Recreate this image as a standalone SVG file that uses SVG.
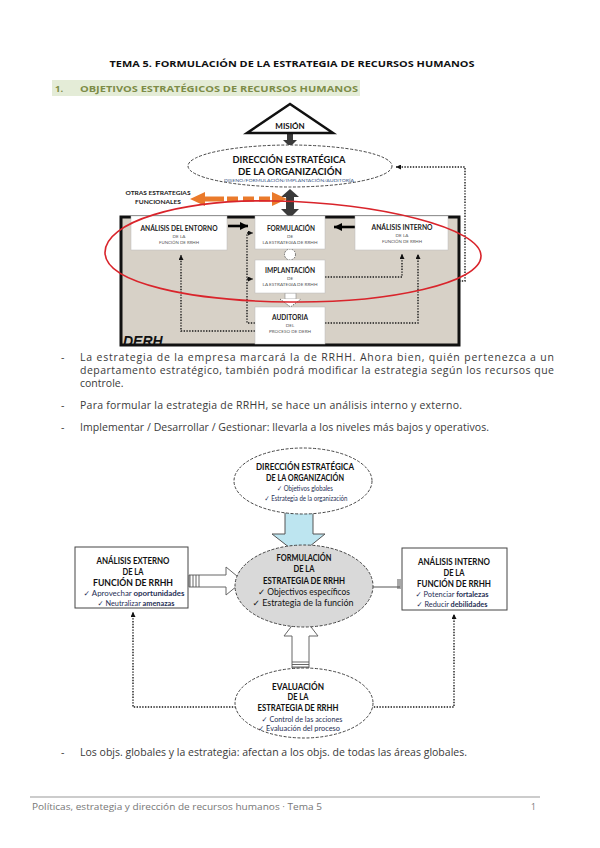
<svg xmlns="http://www.w3.org/2000/svg" width="600" height="848" viewBox="0 0 600 848">
<defs>
<style>
.body{font-family:"Open Sans","Liberation Sans",sans-serif;font-size:10.5px;fill:#3a3a3a}
.cal{font-family:Lato,"DejaVu Sans",sans-serif;fill:#111;text-anchor:middle}
.t9{font-size:9px;font-weight:bold}
.ck{font-size:7.6px;fill:#1f2f55}
.sm{font-family:Lato,"Liberation Sans",sans-serif;fill:#222;text-anchor:middle}
.h{font-size:6.6px;font-weight:bold}
.s{font-size:4.6px;fill:#555}
.dot{fill:none;stroke:#1a1a1a;stroke-width:1.4;stroke-dasharray:1.4,1.4}
.dsh{stroke:#444;stroke-width:1;stroke-dasharray:3,1.6}
.box{fill:#fff;stroke:#bbb;stroke-width:0.5}
.hol{fill:#fff;stroke:#666;stroke-width:1}
</style>
<marker id="ah" viewBox="0 0 6 6" refX="6" refY="3" markerWidth="5" markerHeight="5" markerUnits="userSpaceOnUse" orient="auto"><path d="M0,0 L6,3 L0,6 Z" fill="#111"/></marker>
<marker id="bh" viewBox="0 0 6 6" refX="6" refY="3" markerWidth="8" markerHeight="8" markerUnits="userSpaceOnUse" orient="auto"><path d="M0,0 L6,3 L0,6 Z" fill="#000"/></marker>
</defs>
<rect width="600" height="848" fill="#fff"/>

<g id="title">
<text x="292" y="67" text-anchor="middle" font-family="'Open Sans','Liberation Sans',sans-serif" font-weight="bold" font-size="9.5" fill="#111" textLength="365" lengthAdjust="spacingAndGlyphs">TEMA 5. FORMULACIÓN DE LA ESTRATEGIA DE RECURSOS HUMANOS</text>
</g>
<g id="heading">
<rect x="52" y="80" width="308" height="16" fill="#e4ecd7"/>
<text x="55" y="92" font-family="'Open Sans','Liberation Sans',sans-serif" font-weight="bold" font-size="9.5" fill="#7d8c48">1.</text>
<text x="80" y="92" font-family="'Open Sans','Liberation Sans',sans-serif" font-weight="bold" font-size="9.5" fill="#7d8c48" textLength="278" lengthAdjust="spacingAndGlyphs">OBJETIVOS ESTRATÉGICOS DE RECURSOS HUMANOS</text>
</g>

<!-- ========== TOP DIAGRAM ========== -->
<g id="derh">
<rect x="121" y="217" width="338" height="128" fill="#d7d1c7" stroke="#111" stroke-width="3"/>
<text x="123" y="346" font-family="'Liberation Sans',sans-serif" font-weight="bold" font-style="italic" font-size="14" fill="#111">DERH</text>
</g>

<g id="connectors-top">
<path class="dot" d="M255,331 H181 V255" marker-end="url(#ah)"/>
<path class="dot" d="M255,323 H247 V233 H253" marker-end="url(#ah)"/>
<path class="dot" d="M247,279 H253" marker-end="url(#ah)"/>
<path class="dot" d="M325,277 H402 V254" marker-end="url(#ah)"/>
<path class="dot" d="M325,323 H418 V254" marker-end="url(#ah)"/>
<path class="dot" d="M459,281 H465 V167 H396" marker-end="url(#ah)"/>
<path d="M228,226 H248" stroke="#000" stroke-width="2.6" marker-end="url(#bh)"/>
<path d="M355,227 H334" stroke="#000" stroke-width="2.6" marker-end="url(#bh)"/>
<rect x="287" y="133" width="6" height="7" fill="#3a3a3a"/>
<polygon points="283,140 297,140 290,147" fill="#3a3a3a"/>
<rect x="286" y="196" width="8" height="14" fill="#3a3a3a"/>
<polygon points="281,197 299,197 290,189" fill="#3a3a3a"/>
<polygon points="281,209 299,209 290,218" fill="#3a3a3a"/>
<path d="M203,199 H224" stroke="#ea7a2b" stroke-width="5"/>
<path d="M227,199 H271" stroke="#ea7a2b" stroke-width="5" stroke-dasharray="11,5"/>
<polygon points="190,199 205,192 205,206" fill="#ea7a2b"/>
<polygon points="287,199 272,192 272,206" fill="#ea7a2b"/>
<circle cx="290" cy="254.5" r="5.5" fill="#fff" stroke="#555" stroke-width="0.9" stroke-dasharray="1.5,1.2"/>
<rect x="285" y="293" width="11" height="6" fill="#fff" stroke="#888" stroke-width="0.6"/>
<path d="M280,299 L290.5,307 L301,299" fill="#fff" stroke="#555" stroke-width="0.9" stroke-dasharray="1.5,1.2"/>
</g>

<g id="mision">
<polygon points="290,104 247,133 333,133" fill="#fff" stroke="#111" stroke-width="2.5"/>
<text x="290" y="129" text-anchor="middle" font-family="Lato,'Liberation Sans',sans-serif" font-weight="bold" font-size="8" fill="#111">MISIÓN</text>
</g>

<g id="direccion-top">
<ellipse cx="290" cy="166" rx="102" ry="21" fill="#fff" class="dsh"/>
<text x="289" y="163" text-anchor="middle" font-family="Lato,'Liberation Sans',sans-serif" font-weight="bold" font-size="10" fill="#111" textLength="113" lengthAdjust="spacingAndGlyphs">DIRECCIÓN ESTRATÉGICA</text>
<text x="290" y="175" text-anchor="middle" font-family="Lato,'Liberation Sans',sans-serif" font-weight="bold" font-size="10" fill="#111" textLength="104" lengthAdjust="spacingAndGlyphs">DE LA ORGANIZACIÓN</text>
<text x="289" y="182" text-anchor="middle" font-family="Lato,'Liberation Sans',sans-serif" font-size="4.5" fill="#3b5a8a" textLength="130" lengthAdjust="spacingAndGlyphs">DISEÑO/FORMULACIÓN/IMPLANTACIÓN/AUDITORÍA</text>
</g>

<g id="otras">
<text x="158" y="195" class="sm" font-weight="bold" font-size="6.3" textLength="65" lengthAdjust="spacingAndGlyphs">OTRAS ESTRATEGIAS</text>
<text x="158" y="204" class="sm" font-weight="bold" font-size="6.3" textLength="46" lengthAdjust="spacingAndGlyphs">FUNCIONALES</text>
</g>

<g id="entorno">
<rect x="131" y="216" width="96" height="34" class="box"/>
<text x="179" y="231" class="sm h" textLength="77" lengthAdjust="spacingAndGlyphs">ANÁLISIS DEL ENTORNO</text>
<text x="179" y="238" class="sm s">DE LA</text>
<text x="179" y="244" class="sm s" textLength="40" lengthAdjust="spacingAndGlyphs">FUNCIÓN DE RRHH</text>
</g>
<g id="formulacion-top">
<rect x="255" y="216" width="70" height="33" class="box"/>
<text x="291" y="231" class="sm h" textLength="48" lengthAdjust="spacingAndGlyphs">FORMULACIÓN</text>
<text x="290" y="238" class="sm s">DE</text>
<text x="290" y="244" class="sm s" textLength="55" lengthAdjust="spacingAndGlyphs">LA ESTRATEGIA DE RRHH</text>
</g>
<g id="interno-top">
<rect x="355" y="216" width="93" height="34" class="box"/>
<text x="402" y="230" class="sm h" textLength="61" lengthAdjust="spacingAndGlyphs">ANÁLISIS INTERNO</text>
<text x="402" y="237" class="sm s">DE LA</text>
<text x="402" y="243" class="sm s" textLength="40" lengthAdjust="spacingAndGlyphs">FUNCIÓN DE RRHH</text>
</g>
<g id="implantacion">
<rect x="255" y="260" width="70" height="33" class="box"/>
<text x="290" y="273" class="sm h" textLength="50" lengthAdjust="spacingAndGlyphs">IMPLANTACIÓN</text>
<text x="290" y="280" class="sm s">DE</text>
<text x="290" y="286" class="sm s" textLength="55" lengthAdjust="spacingAndGlyphs">LA ESTRATEGIA DE RRHH</text>
</g>
<g id="auditoria">
<rect x="255" y="307" width="70" height="37" class="box"/>
<text x="290" y="320" class="sm h" textLength="36" lengthAdjust="spacingAndGlyphs">AUDITORIA</text>
<text x="290" y="327" class="sm s">DEL</text>
<text x="290" y="333" class="sm s" textLength="42" lengthAdjust="spacingAndGlyphs">PROCESO DE DERH</text>
</g>

<g id="red-ellipse">
<path d="M105,253 C104,222 180,199 275,201 C380,203 481,228 481,256 C481,283 390,303 290,302 C190,301 106,283 105,253 Z" fill="none" stroke="#d9242b" stroke-width="1.6"/>
</g>

<g id="bullets-1" class="body">
<text x="61" y="361">-</text>
<text x="80" y="361" textLength="474">La estrategia de la empresa marcará la de RRHH. Ahora bien, quién pertenezca a un</text>
<text x="80" y="374" textLength="474">departamento estratégico, también podrá modificar la estrategia según los recursos que</text>
<text x="80" y="387">controle.</text>
<text x="61" y="409">-</text>
<text x="80" y="409" textLength="382">Para formular la estrategia de RRHH, se hace un análisis interno y externo.</text>
<text x="61" y="431">-</text>
<text x="80" y="431" textLength="409">Implementar / Desarrollar / Gestionar: llevarla a los niveles más bajos y operativos.</text>
</g>

<!-- ========== BOTTOM DIAGRAM ========== -->
<g id="connectors-bottom">
<path class="dot" d="M236,707 H133 V612" marker-end="url(#ah)"/>
<path class="dot" d="M371,707 H454 V614" marker-end="url(#ah)"/>
<polygon points="285,509 313,509 313,534 325,534 299,555 272,534 285,534" fill="#bde5f0" stroke="#555" stroke-width="1"/>
<line x1="285" y1="509.5" x2="313" y2="509.5" stroke="#333" stroke-width="2"/>
<polygon points="189,575 226,575 226,567 243,581 226,595 226,587 189,587" class="hol"/>
<path d="M190,575 V587 M193,575 V587 M196,575 V587 M199,575 V587" stroke="#555" stroke-width="0.9"/>
<path d="M367,568 L351,582 L367,596" fill="none" stroke="#666" stroke-width="1"/>
<path d="M366,587 H400 M400,579 V589 M398,579 V589" stroke="#555" stroke-width="1"/>
<polygon points="292,668 292,636 284,636 301,614 318,636 309,636 309,668" class="hol"/>
<path d="M292,662 H309 M292,664.5 H309 M292,667 H309" stroke="#555" stroke-width="0.9"/>
</g>

<g id="direccion">
<ellipse cx="303" cy="481" rx="69" ry="33" fill="#fff" class="dsh"/>
<text x="305" y="470" class="cal t9" textLength="98" lengthAdjust="spacingAndGlyphs">DIRECCIÓN ESTRATÉGICA</text>
<text x="305" y="481" class="cal t9" textLength="78" lengthAdjust="spacingAndGlyphs">DE LA ORGANIZACIÓN</text>
<text x="305" y="491" class="cal ck" textLength="56" lengthAdjust="spacingAndGlyphs">✓ Objetivos globales</text>
<text x="306" y="501" class="cal ck" textLength="83" lengthAdjust="spacingAndGlyphs">✓ Estrategia de la organización</text>
</g>

<g id="formulacion">
<ellipse cx="304" cy="586" rx="69" ry="41" fill="#d9d9d9" class="dsh"/>
<text x="304" y="561" class="cal t9" textLength="55" lengthAdjust="spacingAndGlyphs">FORMULACIÓN</text>
<text x="304" y="572" class="cal t9" textLength="21" lengthAdjust="spacingAndGlyphs">DE LA</text>
<text x="304" y="584" class="cal t9" textLength="82" lengthAdjust="spacingAndGlyphs">ESTRATEGIA DE RRHH</text>
<text x="304" y="595" class="cal" font-size="8.6" fill="#1f2f55" textLength="92" lengthAdjust="spacingAndGlyphs">✓ Objectivos específicos</text>
<text x="303" y="606" class="cal" font-size="8.6" fill="#1f2f55" textLength="101" lengthAdjust="spacingAndGlyphs">✓ Estrategia de la función</text>
</g>

<g id="externo">
<rect x="75" y="547" width="113" height="61" fill="#fff" stroke="#444" stroke-width="1"/>
<text x="133" y="564" class="cal t9" textLength="73" lengthAdjust="spacingAndGlyphs">ANÁLISIS EXTERNO</text>
<text x="133" y="575" class="cal t9" textLength="21" lengthAdjust="spacingAndGlyphs">DE LA</text>
<text x="133" y="586" class="cal t9" textLength="80" lengthAdjust="spacingAndGlyphs">FUNCIÓN DE RRHH</text>
<text x="134" y="596" class="cal ck" textLength="101" lengthAdjust="spacingAndGlyphs">✓ Aprovechar <tspan font-weight="bold">oportunidades</tspan></text>
<text x="136" y="606" class="cal ck" textLength="77" lengthAdjust="spacingAndGlyphs">✓ Neutralizar <tspan font-weight="bold">amenazas</tspan></text>
</g>

<g id="interno">
<rect x="402" y="548" width="105" height="62" fill="#fff" stroke="#444" stroke-width="1"/>
<text x="454" y="565" class="cal t9" textLength="72" lengthAdjust="spacingAndGlyphs">ANÁLISIS INTERNO</text>
<text x="454" y="576" class="cal t9" textLength="21" lengthAdjust="spacingAndGlyphs">DE LA</text>
<text x="454" y="587" class="cal t9" textLength="74" lengthAdjust="spacingAndGlyphs">FUNCIÓN DE RRHH</text>
<text x="452" y="597" class="cal ck" textLength="73" lengthAdjust="spacingAndGlyphs">✓ Potenciar <tspan font-weight="bold">fortalezas</tspan></text>
<text x="452" y="607" class="cal ck" textLength="71" lengthAdjust="spacingAndGlyphs">✓ Reducir <tspan font-weight="bold">debilidades</tspan></text>
</g>

<g id="evaluacion">
<ellipse cx="304" cy="703" rx="69" ry="35" fill="#fff" class="dsh"/>
<text x="298" y="690" class="cal t9" textLength="52" lengthAdjust="spacingAndGlyphs">EVALUACIÓN</text>
<text x="298" y="700" class="cal t9" textLength="21" lengthAdjust="spacingAndGlyphs">DE LA</text>
<text x="298" y="711" class="cal t9" textLength="81" lengthAdjust="spacingAndGlyphs">ESTRATEGIA DE RRHH</text>
<text x="302" y="722" class="cal ck" textLength="81" lengthAdjust="spacingAndGlyphs">✓ Control de las acciones</text>
<text x="299" y="731" class="cal ck" textLength="82" lengthAdjust="spacingAndGlyphs">✓ Evaluación del proceso</text>
</g>

<g id="bullets-2" class="body">
<text x="61" y="756">-</text>
<text x="80" y="756" textLength="387">Los objs. globales y la estrategia: afectan a los objs. de todas las áreas globales.</text>
</g>

<g id="footer">
<line x1="30" y1="797" x2="540" y2="797" stroke="#999" stroke-width="1"/>
<text x="32" y="810" font-family="'Open Sans','Liberation Sans',sans-serif" font-size="8.5" fill="#777" textLength="290" lengthAdjust="spacingAndGlyphs">Políticas, estrategia y dirección de recursos humanos · Tema 5</text>
<text x="531" y="810" font-family="'Open Sans','Liberation Sans',sans-serif" font-size="8.5" fill="#777">1</text>
</g>
</svg>
